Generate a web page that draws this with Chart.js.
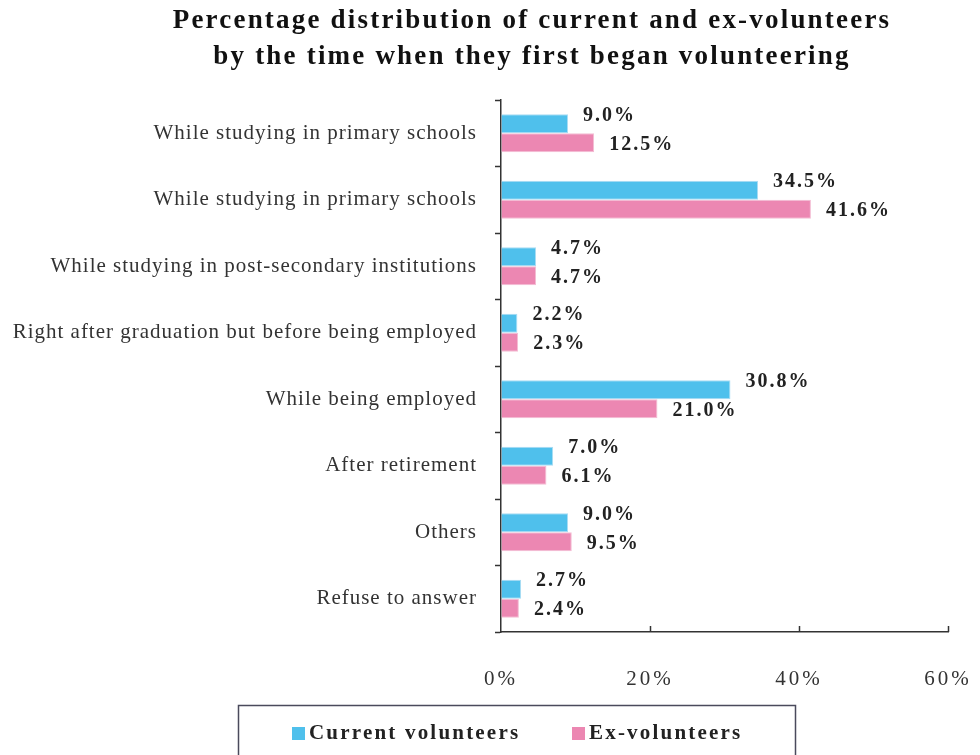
<!DOCTYPE html>
<html>
<head>
<meta charset="utf-8">
<script src="https://cdn.jsdelivr.net/npm/chart.js@4.4.1/dist/chart.umd.min.js"></script>
<style>
  html, body { margin: 0; padding: 0; background: #fff; }
  #wrap { width: 980px; height: 755px; position: relative; }
</style>
</head>
<body>
<div id="wrap"><canvas id="c" width="980" height="755"></canvas></div>
<script>
// Stage at which respondents first began volunteering
const categories = [
  'While studying in primary schools',
  'While studying in primary schools',
  'While studying in post-secondary institutions',
  'Right after graduation but before being employed',
  'While being employed',
  'After retirement',
  'Others',
  'Refuse to answer'
];
const currentVolunteers = [9.0, 34.5, 4.7, 2.2, 30.8, 7.0, 9.0, 2.7];
const exVolunteers = [12.5, 41.6, 4.7, 2.3, 21.0, 6.1, 9.5, 2.4];
const xTicks = [0, 20, 40, 60];
const titleLines = [
  'Percentage distribution of current and ex-volunteers',
  'by the time when they first began volunteering'
];
const seriesNames = ['Current volunteers', 'Ex-volunteers'];

const BLUE = '#4fc0ec';
const PINK = '#ec87b2';
const SERIF = '"Liberation Serif", "Times New Roman", serif';

// Wrap a scale's label drawing so its text gets extra tracking
function spaceLabels(scale, spacing) {
  if (!scale || scale.__spaced) return;
  const orig = scale.drawLabels;
  scale.drawLabels = function (area) {
    const ctx = this.ctx;
    ctx.save();
    ctx.letterSpacing = spacing;
    orig.call(this, area);
    ctx.restore();
  };
  scale.__spaced = true;
}

// Title, value labels, inward x ticks and the boxed legend
const decorations = {
  id: 'decorations',
  afterUpdate(chart) {
    spaceLabels(chart.scales.x, '3px');
    spaceLabels(chart.scales.y, '1px');
  },
  afterDraw(chart) {
    const ctx = chart.ctx;
    const xs = chart.scales.x;
    const area = chart.chartArea;
    ctx.save();

    // title
    ctx.fillStyle = '#111';
    ctx.font = 'bold 27px ' + SERIF;
    ctx.letterSpacing = '2.2px';
    ctx.textAlign = 'center';
    ctx.textBaseline = 'middle';
    ctx.fillText(titleLines[0], 532, 21);
    ctx.fillText(titleLines[1], 532, 57);

    // short tick marks pointing up from the x axis
    ctx.strokeStyle = '#333';
    ctx.lineWidth = 1.5;
    xTicks.forEach(v => {
      if (v === 0) return;
      const px = Math.round(xs.getPixelForValue(v)) + 0.5;
      ctx.beginPath();
      ctx.moveTo(px, area.bottom);
      ctx.lineTo(px, area.bottom - 6);
      ctx.stroke();
    });

    // value labels to the right of each bar
    ctx.font = 'bold 20px ' + SERIF;
    ctx.letterSpacing = '2px';
    ctx.fillStyle = '#222';
    ctx.textAlign = 'left';
    const shifts = [-8, 2];
    chart.data.datasets.forEach((ds, di) => {
      const meta = chart.getDatasetMeta(di);
      meta.data.forEach((bar, i) => {
        const txt = ds.data[i].toFixed(1) + '%';
        ctx.fillText(txt, bar.x + 15, bar.y + shifts[di]);
      });
    });

    // legend box
    ctx.letterSpacing = '0px';
    ctx.strokeStyle = '#4a4a5c';
    ctx.lineWidth = 1.5;
    ctx.strokeRect(238.5, 705.5, 557, 70);
    ctx.font = 'bold 21px ' + SERIF;
    ctx.letterSpacing = '2.2px';
    ctx.textBaseline = 'middle';
    const items = [
      { x: 292, color: BLUE, text: seriesNames[0] },
      { x: 572, color: PINK, text: seriesNames[1] }
    ];
    items.forEach(it => {
      ctx.fillStyle = it.color;
      ctx.fillRect(it.x, 727, 13, 13);
      ctx.fillStyle = '#222';
      ctx.fillText(it.text, it.x + 17, 734);
    });
    ctx.restore();
  }
};

new Chart(document.getElementById('c'), {
  type: 'bar',
  data: {
    labels: categories,
    datasets: [
      {
        label: seriesNames[0],
        data: currentVolunteers,
        backgroundColor: BLUE,
        borderColor: '#a9dcf3',
        borderWidth: 1,
        categoryPercentage: 0.57,
        barPercentage: 1.0
      },
      {
        label: seriesNames[1],
        data: exVolunteers,
        backgroundColor: PINK,
        borderColor: '#f3bdd3',
        borderWidth: 1,
        categoryPercentage: 0.57,
        barPercentage: 1.0
      }
    ]
  },
  options: {
    indexAxis: 'y',
    responsive: false,
    animation: false,
    events: [],
    layout: { padding: { top: 100, right: 32, bottom: 0, left: 0 } },
    plugins: {
      legend: { display: false },
      title: { display: false },
      tooltip: { enabled: false }
    },
    scales: {
      x: {
        min: 0,
        max: 60,
        afterBuildTicks(scale) {
          scale.ticks = xTicks.map(v => ({ value: v }));
        },
        afterFit(scale) {
          scale.height = 123;
          scale.paddingLeft = 0;
          scale.paddingRight = 0;
        },
        grid: {
          display: true,
          drawOnChartArea: false,
          drawTicks: false,
          color: '#333'
        },
        border: { display: true, color: '#333', width: 1.5 },
        ticks: {
          padding: 35,
          color: '#333',
          maxRotation: 0,
          minRotation: 0,
          font: { family: SERIF, size: 21 },
          callback: v => v + '%'
        }
      },
      y: {
        afterFit(scale) { scale.width = 501; },
        grid: {
          display: true,
          offset: true,
          drawOnChartArea: false,
          drawTicks: true,
          tickLength: 6,
          tickColor: '#333',
          tickWidth: 1.5
        },
        border: { display: true, color: '#333', width: 1.5 },
        ticks: {
          padding: 18,
          color: '#333',
          font: { family: SERIF, size: 21 },
          autoSkip: false
        }
      }
    }
  },
  plugins: [decorations]
});
</script>
</body>
</html>
